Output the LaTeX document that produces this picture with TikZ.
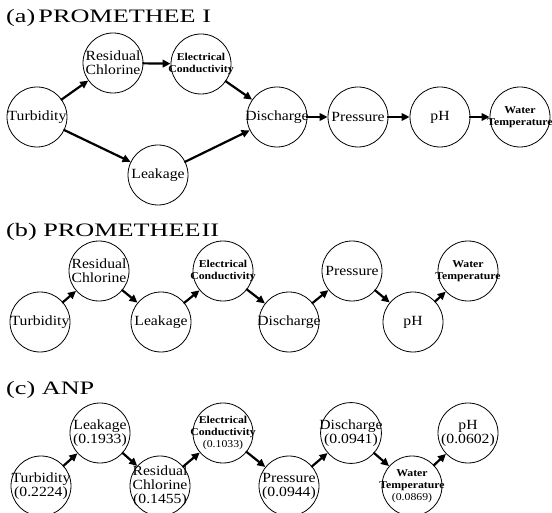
\documentclass[tikz,border=0pt]{standalone}
\usepackage{fontspec}
\setmainfont[FakeStretch=1.12]{Liberation Serif}
\newfontfamily\ttlfont[FakeStretch=1.38]{Liberation Serif}
\usetikzlibrary{arrows.meta}

\begin{document}
\begin{tikzpicture}[x=1pt, y=-1pt,
    crit/.style={circle, draw, line width=0.8pt, minimum size=60pt, inner sep=-3pt,
                 align=center, font=\fontsize{14}{14}\selectfont},
    smallcrit/.style={crit, inner sep=-8pt, font=\fontsize{10.5}{12}\selectfont\bfseries},
    link/.style={line width=2.2pt, -{Triangle[length=8pt, width=7.5pt]}, shorten <=-1pt},
    ttl/.style={anchor=west, inner sep=0pt, font=\ttlfont\fontsize{19}{19}\selectfont}]
  \useasboundingbox (0,0) rectangle (552,513);

  % (a) PROMETHEE I
  \node[ttl] (ta) at (6,18) {(a)\,PROMETHEE I};
  \node[crit] (a1) at (37,117) {Turbidity};
  \node[crit] (a2) at (113,63) {Residual\\Chlorine};
  \node[smallcrit] (a3) at (201,64) {Electrical\\Conductivity};
  \node[crit] (a4) at (158,175) {Leakage};
  \node[crit] (a5) at (277,117) {Discharge};
  \node[crit] (a6) at (358,117) {Pressure};
  \node[crit] (a7) at (440,117) {pH};
  \node[smallcrit] (a8) at (520,117) {Water\\Temperature};
  \draw[link] (a1) -- (a2);
  \draw[link] (a1) -- (a4);
  \draw[link] (a2) -- (a3);
  \draw[link] (a3) -- (a5);
  \draw[link] (a4) -- (a5);
  \draw[link] (a5) -- (a6);
  \draw[link] (a6) -- (a7);
  \draw[link] (a7) -- (a8);

  % (b) PROMETHEE II
  \node[ttl] (tb) at (6,232) {(b) PROMETHEE\kern1pt II};
  \node[crit] (b1) at (40,322) {Turbidity};
  \node[crit] (b2) at (99,271) {Residual\\Chlorine};
  \node[crit] (b3) at (161,322) {Leakage};
  \node[smallcrit] (b4) at (223,271) {Electrical\\Conductivity};
  \node[crit] (b5) at (289,322) {Discharge};
  \node[crit] (b6) at (352,271) {Pressure};
  \node[crit] (b7) at (413,322) {pH};
  \node[smallcrit] (b8) at (468,271) {Water\\Temperature};
  \foreach \i/\j in {1/2,2/3,3/4,4/5,5/6,6/7,7/8}
    \draw[link] (b\i) -- (b\j);

  % (c) ANP
  \node[ttl] (tc) at (6,390) {(c) ANP};
  \node[crit] (c1) at (41,486) {Turbidity\\(0.2224)};
  \node[crit] (c2) at (100,433) {Leakage\\(0.1933)};
  \node[crit] (c3) at (160,486) {Residual\\Chlorine\\(0.1455)};
  \node[smallcrit] (c4) at (223,433) {Electrical\\Conductivity\\\mdseries(0.1033)};
  \node[crit] (c5) at (289,486) {Pressure\\(0.0944)};
  \node[crit] (c6) at (351,433) {Discharge\\(0.0941)};
  \node[smallcrit] (c7) at (412,486) {Water\\Temperature\\\mdseries(0.0869)};
  \node[crit] (c8) at (468,433) {pH\\(0.0602)};
  \foreach \i/\j in {1/2,2/3,3/4,4/5,5/6,6/7,7/8}
    \draw[link] (c\i) -- (c\j);
\end{tikzpicture}
\end{document}
